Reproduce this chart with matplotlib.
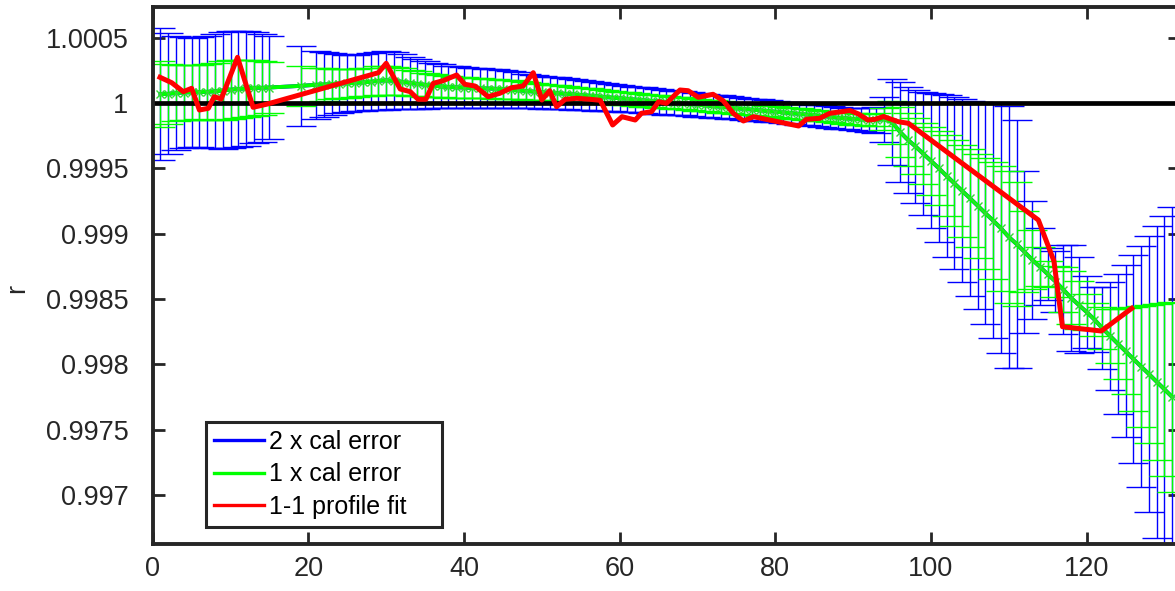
import matplotlib
matplotlib.use('Agg')
import matplotlib.pyplot as plt
from matplotlib.lines import Line2D
import numpy as np

plt.rcParams['font.family'] = ['Liberation Sans', 'DejaVu Sans']

# ---------------- data ----------------
x_cal = list(range(1, 16)) + [19] + list(range(21, 132))

r_center = [
    1.0000676, 1.0000701, 1.0000765, 1.0000803, 1.0000816, 1.0000842, 1.0000854, 1.0000893,
    1.0000956, 1.0001020, 1.0001071, 1.0001110, 1.0001160, 1.0001160, 1.0001186,
    1.0001310,
    1.0001396, 1.0001415, 1.0001450, 1.0001480, 1.0001503, 1.0001538, 1.0001576, 1.0001626,
    1.0001695, 1.0001733, 1.0001691, 1.0001626, 1.0001542, 1.0001461, 1.0001392, 1.0001335,
    1.0001270, 1.0001228, 1.0001197, 1.0001178, 1.0001155, 1.0001132, 1.0001109, 1.0001086,
    1.0001063, 1.0001014, 1.0000968, 1.0000918, 1.0000865, 1.0000822, 1.0000784, 1.0000746,
    1.0000704, 1.0000658, 1.0000612, 1.0000562, 1.0000513, 1.0000463, 1.0000413, 1.0000363,
    1.0000314, 1.0000264, 1.0000214, 1.0000164, 1.0000115, 1.0000065, 1.0000015, 0.9999966,
    0.9999916, 0.9999866, 0.9999813, 0.9999759, 0.9999705, 0.9999652, 0.9999598, 0.9999545,
    0.9999491, 0.9999438, 0.9999384, 0.9999331, 0.9999277, 0.9999223, 0.9999170, 0.9999116,
    0.9999063, 0.9999002, 0.9998940, 0.9998871, 0.9998833, 0.9998776, 0.9998749, 0.9998711,
    0.9998711, 0.9998761, 0.9998535, 0.9997807, 0.9997195, 0.9996685, 0.9996123, 0.9995575,
    0.9995014, 0.9994428, 0.9993854, 0.9993280, 0.9992719, 0.9992145, 0.9991560, 0.9991000,
    0.9990413, 0.9989748, 0.9989212, 0.9988623, 0.9988011, 0.9987475, 0.9986901, 0.9986343,
    0.9985731, 0.9985096, 0.9984545, 0.9984010, 0.9983436, 0.9982785, 0.9982188, 0.9981584,
    0.9981010, 0.9980421, 0.9979840, 0.9979266, 0.9978677, 0.9978095, 0.9977506,
]

cal_err = [
    2.52e-4, 2.31e-4, 2.18e-4, 2.11e-4, 2.09e-4, 2.09e-4, 2.14e-4, 2.18e-4,
    2.23e-4, 2.24e-4, 2.23e-4, 2.20e-4, 2.12e-4, 2.06e-4, 1.98e-4,
    1.54e-4,
    1.303e-4, 1.232e-4, 1.176e-4, 1.123e-4, 1.085e-4, 1.067e-4, 1.075e-4, 1.088e-4,
    1.115e-4, 1.123e-4, 1.094e-4, 1.050e-4, 1.000e-4, 0.953e-4, 0.911e-4, 0.874e-4,
    0.838e-4, 0.813e-4, 0.798e-4, 0.788e-4, 0.777e-4, 0.765e-4, 0.754e-4, 0.742e-4,
    0.731e-4, 0.710e-4, 0.687e-4, 0.666e-4, 0.639e-4, 0.622e-4, 0.610e-4, 0.603e-4,
    0.593e-4, 0.582e-4, 0.574e-4, 0.560e-4, 0.547e-4, 0.534e-4, 0.520e-4, 0.507e-4,
    0.501e-4, 0.495e-4, 0.490e-4, 0.484e-4, 0.478e-4, 0.473e-4, 0.467e-4, 0.461e-4,
    0.455e-4, 0.450e-4, 0.446e-4, 0.442e-4, 0.438e-4, 0.434e-4, 0.430e-4, 0.427e-4,
    0.423e-4, 0.419e-4, 0.415e-4, 0.411e-4, 0.411e-4, 0.411e-4, 0.411e-4, 0.411e-4,
    0.411e-4, 0.411e-4, 0.411e-4, 0.411e-4, 0.411e-4, 0.421e-4, 0.434e-4, 0.453e-4,
    0.492e-4, 0.861e-4, 1.639e-4, 1.913e-4, 2.028e-4, 2.155e-4, 2.346e-4, 2.582e-4,
    2.837e-4, 3.092e-4, 3.290e-4, 3.500e-4, 3.730e-4, 3.966e-4, 4.234e-4, 4.500e-4,
    4.780e-4, 5.020e-4, 4.740e-4, 3.100e-4, 2.250e-4, 1.470e-4, 0.990e-4, 1.160e-4,
    1.700e-4, 2.020e-4, 1.820e-4, 1.380e-4, 1.250e-4, 1.580e-4, 2.070e-4, 2.670e-4,
    3.300e-4, 3.970e-4, 4.620e-4, 5.290e-4, 5.960e-4, 6.630e-4, 7.280e-4,
]

x_fit = [0.94, 2.44, 3.93, 5.0, 6.0, 7.15, 7.9, 8.8, 10.9, 12.9, 14.6, 29.0, 30.0, 31.8,
         33.1, 34.1, 35.1, 36.05, 37.3, 39.05, 40.1, 41.4, 43.1, 44.6, 46.1, 47.6, 48.9,
         50.0, 51.0, 51.9, 53.0, 54.5, 56.2, 57.5, 59.1, 60.3, 62.0, 62.8, 64.1, 65.0,
         66.0, 67.75, 68.8, 70.1, 72.0, 73.3, 74.6, 75.9, 77.2, 83.0, 84.0, 85.7, 87.0,
         89.6, 90.7, 91.9, 92.8, 93.9, 95.8, 97.1, 113.8, 115.8, 116.9, 121.9, 125.8]
r_fit = [1.0001966, 1.0001553, 1.0000865, 1.0001125, 0.9999464, 0.9999594, 1.0000482,
         1.0000306, 1.0003497, 0.9999671, 0.9999901, 1.0002318, 1.0003037, 1.0001071,
         1.0000865, 1.0000283, 1.0000283, 1.0001507, 1.0001706, 1.0002142, 1.0001431,
         1.0001301, 1.0000482, 1.0000742, 1.0001171, 1.0001301, 1.0002318, 1.0000230,
         1.0000941, 0.9999717, 1.0000283, 1.0000360, 1.0000283, 1.0000207, 0.9998317,
         0.9998952, 0.9998699, 0.9999212, 0.9999334, 1.0000099, 0.9999977, 1.0000995,
         1.0000941, 1.0000436, 1.0000666, 1.0000176, 0.9999212, 0.9998623, 0.9998952,
         0.9998240, 0.9998753, 0.9998829, 0.9999212, 0.9999426, 0.9999158, 0.9998699,
         0.9998753, 0.9998967, 0.9998569, 0.9998447, 0.9991048, 0.9987911, 0.9982885,
         0.9982556, 0.9984293]

reference_level = 1.0
x_ticks = [0, 20, 40, 60, 80, 100, 120]
y_ticks = [0.997, 0.9975, 0.998, 0.9985, 0.999, 0.9995, 1.0, 1.0005]
y_tick_labels = ['0.997', '0.9975', '0.998', '0.9985', '0.999', '0.9995', '1', '1.0005']
legend_labels = ['2 x cal error', '1 x cal error', '1-1 profile fit']

# ---------------- plot ----------------
W, H = 1175, 591
fig = plt.figure(figsize=(W / 100, H / 100), dpi=100)
ax_l, ax_r, ax_t, ax_b = 152.7, 1180.0, 6.7, 544.0
ax = fig.add_axes([ax_l / W, (H - ax_b) / H, (ax_r - ax_l) / W, (ax_b - ax_t) / H])

xc = np.array(x_cal, dtype=float)
rc = np.array(r_center)
ec = np.array(cal_err)

BLUE = (0, 0, 1)
GREEN = (0, 1, 0)
RED = (1, 0, 0)
DARK = '#262626'

ax.errorbar(xc, rc, yerr=2 * ec, fmt='-', color=BLUE, lw=2.8, elinewidth=1.0,
            capsize=10.5, capthick=1.0, zorder=2)
ax.errorbar(xc, rc, yerr=ec, fmt='-', color=GREEN, lw=2.8, elinewidth=1.0,
            capsize=10.5, capthick=1.0, zorder=3, marker='x', markersize=5.5,
            markeredgewidth=1.0, markeredgecolor=(0.2, 0.85, 0.2))
ax.axhline(reference_level, color='black', lw=3.4, zorder=4)
ax.plot(x_fit, r_fit, color=RED, lw=3.6, zorder=5)

ax.set_xlim(0, 132)
ax.set_ylim(0.996626, 1.0007368)
ax.set_xticks(x_ticks)
ax.set_xticklabels([str(t) for t in x_ticks])
ax.set_yticks(y_ticks)
ax.set_yticklabels(y_tick_labels)

for s in ax.spines.values():
    s.set_linewidth(2.8)
    s.set_color(DARK)
    s.set_zorder(6)
ax.tick_params(direction='in', length=8.8, width=2.0, color=DARK, top=True, right=True,
               labelsize=19.5, labelcolor=DARK)
ax.tick_params(axis='x', pad=9.0)
ax.tick_params(axis='y', pad=17.5)

ax.set_ylabel('r', fontsize=19.5, color=DARK)
ax.yaxis.set_label_coords((30 - ax_l) / (ax_r - ax_l), (ax_b - 288) / (ax_b - ax_t))

handles = [Line2D([], [], color=BLUE, lw=2.4),
           Line2D([], [], color=GREEN, lw=2.4),
           Line2D([], [], color=RED, lw=2.4)]
lx0 = (205.7 - ax_l) / (ax_r - ax_l)
ly0 = (ax_b - 526.7) / (ax_b - ax_t)
lw_ = 236.0 / (ax_r - ax_l)
lh_ = 100.7 / (ax_b - ax_t)
leg = ax.legend(handles, legend_labels, loc='lower left',
                bbox_to_anchor=(lx0, ly0, lw_, lh_), mode='expand',
                fontsize=18.0, frameon=True, fancybox=False, edgecolor=DARK,
                framealpha=1, borderpad=0.32, labelspacing=0.33, handlelength=2.0,
                handletextpad=0.2, borderaxespad=0)
leg.get_frame().set_linewidth(2.2)
leg.set_zorder(10)
for t in leg.get_texts():
    t.set_color('black')

fig.savefig('out.png', dpi=100)
